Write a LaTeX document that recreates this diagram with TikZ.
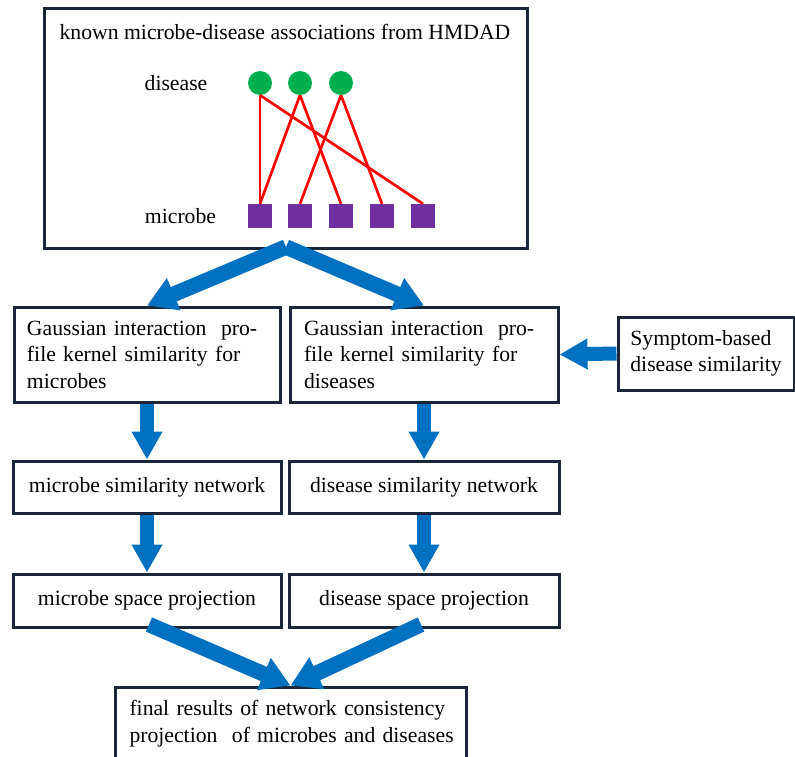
\documentclass[tikz,border=0pt]{standalone}
\usepackage{fontspec}
\setmainfont{Liberation Serif}
\usetikzlibrary{arrows.meta,calc}
\definecolor{frame}{HTML}{1B2638}
\definecolor{flow}{HTML}{0070C0}
\definecolor{link}{HTML}{FF0000}
\definecolor{dnode}{HTML}{00B050}
\definecolor{mnode}{HTML}{7030A0}
\begin{document}
\begin{tikzpicture}[x=1pt,y=-1pt,
  font=\fontsize{21.7}{26.5}\selectfont,
  box/.style={draw=frame, line width=3pt, fill=white, rectangle, inner sep=0pt},
  dis/.style={circle, fill=dnode, minimum size=24pt, inner sep=0pt},
  mic/.style={rectangle, fill=mnode, minimum size=24pt, inner sep=0pt},
  assoc/.style={draw=link, line width=2.7pt},
  flowstraight/.style={draw=flow, line width=14pt, -{Triangle[width=29pt,length=28pt]}},
  flowslant/.style={draw=flow, line width=15.5pt, -{Triangle[width=33pt,length=29pt]}},
]
\useasboundingbox (0,0) rectangle (795,757);

% association data panel
\node[box, minimum width=483pt, minimum height=239pt] (top) at (285.5,128.5) {};
\node (title) at (285,32) {known microbe-disease associations from HMDAD};
\node (dlab) at (176,83) {disease};
\node (mlab) at (180.5,216) {microbe};
\foreach \i/\x in {1/260,2/300,3/341}
  \node[dis] (d\i) at (\x,83) {};
\foreach \i/\x in {1/260,2/300,3/341,4/382,5/423}
  \node[mic] (m\i) at (\x,216) {};
\foreach \a/\b in {1/1,1/5,2/1,2/3,3/2,3/4}
  \draw[assoc] (d\a.south) -- (m\b.north);

% similarity kernels
\node[box, minimum width=266pt, minimum height=95pt, text width=240pt, align=left] (gm) at (147,354.5)
  {\makebox[240pt][s]{Gaussian interaction\ \ pro-}\\
   \makebox[240pt][s]{file kernel similarity for}\\
   microbes};
\node[box, minimum width=268pt, minimum height=95pt, text width=240pt, align=left] (gd) at (424,354.5)
  {\makebox[240pt][s]{Gaussian interaction\ \ pro-}\\
   \makebox[240pt][s]{file kernel similarity for}\\
   diseases};
\node[box, minimum width=176pt, minimum height=73pt, align=left] (sym) at (706,353.5)
  {Symptom-based\\disease similarity};

% networks
\node[box, minimum width=268pt, minimum height=52pt] (nm) at (147,487) {microbe similarity network};
\node[box, minimum width=270pt, minimum height=52pt] (nd) at (424,487) {disease similarity network};

% projections
\node[box, minimum width=268pt, minimum height=53pt] (pm) at (147,600.5) {microbe space projection};
\node[box, minimum width=270pt, minimum height=53pt] (pd) at (424,600.5) {disease space projection};

% final result
\node[box, minimum width=351pt, minimum height=73pt, text width=322pt, align=left] (fin) at (290.5,723.5)
  {\makebox[322pt][s]{final results of network consistency}\\
   \makebox[322pt][s]{projection\ \ of microbes and diseases}};

% flow arrows
\coordinate (split) at (286,247);
\draw[flowslant] (split) -- (gm.north);
\draw[flowslant] (split) -- (gd.north);
\draw[flowstraight] (sym.west) -- (gd.east);
\draw[flowstraight] (gm.south) -- (nm.north);
\draw[flowstraight] (gd.south) -- (nd.north);
\draw[flowstraight] (nm.south) -- (pm.north);
\draw[flowstraight] (nd.south) -- (pd.north);
\draw[flowslant] ($(pm.south)+(2,-4)$) -- (fin.north);
\draw[flowslant] ($(pd.south)+(-3,-4)$) -- (fin.north);
\end{tikzpicture}
\end{document}
